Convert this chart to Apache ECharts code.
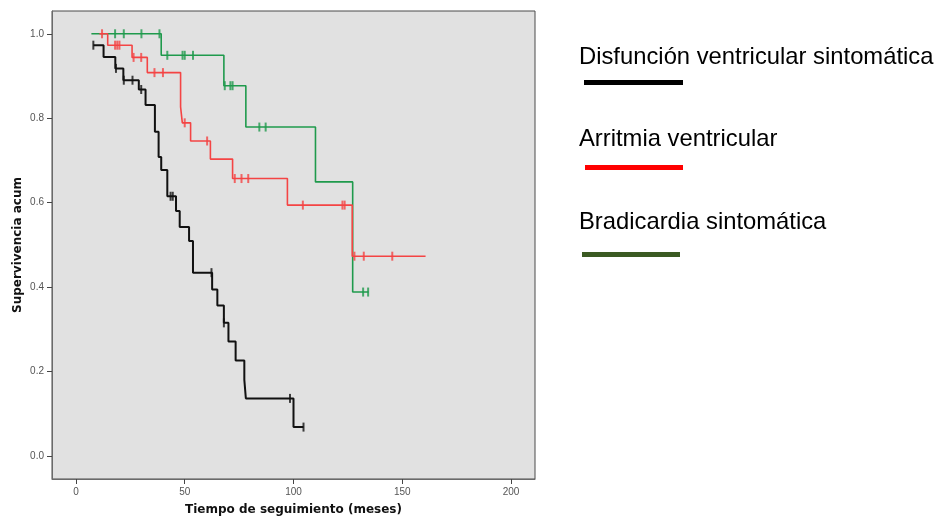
<!DOCTYPE html>
<html>
<head>
<meta charset="utf-8">
<script src="https://cdn.jsdelivr.net/npm/echarts@6/dist/echarts.min.js"></script>
<style>
html,body{margin:0;padding:0;background:#fff;}
#c{width:952px;height:521px;}
</style>
</head>
<body>
<div id="c"></div>
<script>
// ---- Data (Kaplan-Meier curves) ----
var xTicks = [0, 50, 100, 150, 200];
var yTicks = [0.0, 0.2, 0.4, 0.6, 0.8, 1.0];

var seriesNames = ['Disfunción ventricular sintomática', 'Arritmia ventricular', 'Bradicardia sintomática'];

// Disfunción ventricular sintomática
var blackTimes = [8, 12.7, 18.1, 21.8, 28.9, 32, 36.3, 38, 39.2, 42, 46, 47.7, 52, 53.8, 62.6, 65, 68, 70.1, 73.4, 77.4, 78.1, 100];
var blackSurv  = [0.973, 0.945, 0.918, 0.890, 0.868, 0.831, 0.768, 0.708, 0.677, 0.615, 0.580, 0.542, 0.509, 0.434, 0.394, 0.356, 0.315, 0.271, 0.226, 0.180, 0.136, 0.068];
var blackEnd = 104.6;
var blackCensor = [8, 18.4, 22, 26, 30, 43.5, 44.5, 62.3, 68, 98.4, 104.6];

// Arritmia ventricular
var redTimes = [10.8, 14.6, 25.8, 32.8, 48.1, 48.9, 52.7, 61.8, 72, 97.2, 127];
var redSurv  = [1.0, 0.973, 0.944, 0.908, 0.827, 0.789, 0.746, 0.703, 0.657, 0.594, 0.473];
var redEnd = 160.7;
var redCensor = [12, 18, 19, 20, 26.5, 30, 36.1, 40, 50, 60.3, 73, 76.1, 79.2, 104.3, 122.5, 123.5, 128, 132.3, 145.4];

// Bradicardia sintomática
var greenTimes = [7.1, 39.2, 68, 78.1, 110.1, 127.2];
var greenSurv  = [1.0, 0.949, 0.877, 0.779, 0.649, 0.388];
var greenEnd = 134.5;
var greenCensor = [18, 22, 30.1, 38.4, 42, 49, 50, 53.8, 68.4, 71, 72, 84.3, 87.2, 132, 134.3];

// ---- Helpers ----
function stepData(times, surv, end) {
  var d = times.map(function (t, i) { return [t, surv[i]]; });
  d.push([end, surv[surv.length - 1]]);
  return d;
}
function survAt(times, surv, t) {
  var s = surv[0];
  for (var i = 0; i < times.length; i++) { if (times[i] <= t) s = surv[i]; }
  return s;
}
function censorData(times, surv, cens) {
  return cens.map(function (t) { return [t, survAt(times, surv, t)]; });
}

var cBlack = '#111111', cRed = '#f44444', cGreen = '#1f9a4c';

var chart = echarts.init(document.getElementById('c'), null, {renderer: 'canvas'});

function lineSeries(data, color, w) {
  return {type: 'line', data: data, step: 'end', showSymbol: false, symbol: 'none',
    lineStyle: {color: color, width: w}, silent: true, z: 3, animation: false};
}
function censorSeries(data, color) {
  return {type: 'scatter', data: data, symbol: 'rect', symbolSize: [2, 9],
    itemStyle: {color: color}, silent: true, z: 4, animation: false};
}

var option = {
  animation: false,
  grid: {left: 52, top: 11, right: 417, bottom: 42, show: true,
    backgroundColor: '#e1e1e1', borderColor: '#4a4a4a', borderWidth: 1},
  xAxis: {
    type: 'value', min: -11, max: 211,
    name: 'Tiempo de seguimiento (meses)', nameLocation: 'middle', nameGap: 25,
    nameTextStyle: {fontFamily: 'DejaVu Sans', fontWeight: 'bold', fontSize: 12, color: '#111'},
    axisLine: {show: true, onZero: false, lineStyle: {color: '#6a6a6a', width: 1}},
    axisTick: {show: true, length: 5, lineStyle: {color: '#444'}, customValues: xTicks},
    axisLabel: {customValues: xTicks, margin: 8, fontFamily: 'Liberation Sans', fontSize: 10, color: '#555'},
    splitLine: {show: false}
  },
  yAxis: {
    type: 'value', min: -0.055, max: 1.054,
    name: 'Supervivencia acum', nameLocation: 'middle', nameGap: 28, nameRotate: 90,
    nameMoveOverlap: false,
    nameTextStyle: {fontFamily: 'DejaVu Sans', fontWeight: 'bold', fontSize: 12, color: '#111'},
    axisLine: {show: true, onZero: false, lineStyle: {color: '#6a6a6a', width: 1}},
    axisTick: {show: true, length: 5, lineStyle: {color: '#444'}, customValues: yTicks},
    axisLabel: {customValues: yTicks, margin: 8, fontFamily: 'Liberation Sans', fontSize: 10, color: '#555',
      formatter: function (v) { return v.toFixed(1); }},
    splitLine: {show: false}
  },
  series: [
    lineSeries(stepData(greenTimes, greenSurv, greenEnd), cGreen, 1.6),
    lineSeries(stepData(redTimes, redSurv, redEnd), cRed, 1.6),
    lineSeries(stepData(blackTimes, blackSurv, blackEnd), cBlack, 2),
    censorSeries(censorData(greenTimes, greenSurv, greenCensor), cGreen),
    censorSeries(censorData(redTimes, redSurv, redCensor), cRed),
    censorSeries(censorData(blackTimes, blackSurv, blackCensor), cBlack)
  ],
  graphic: [
    {type: 'text', left: 579, top: 45, style: {text: seriesNames[0], font: '23.8px "Liberation Sans", Arial, sans-serif', fill: '#000', textVerticalAlign: 'middle'}},
    {type: 'rect', shape: {x: 584, y: 80, width: 99, height: 5}, style: {fill: '#000'}},
    {type: 'text', left: 579, top: 127, style: {text: seriesNames[1], font: '23.8px "Liberation Sans", Arial, sans-serif', fill: '#000', textVerticalAlign: 'middle'}},
    {type: 'rect', shape: {x: 585, y: 165, width: 98, height: 5}, style: {fill: '#ff0000'}},
    {type: 'text', left: 579, top: 210, style: {text: seriesNames[2], font: '23.8px "Liberation Sans", Arial, sans-serif', fill: '#000', textVerticalAlign: 'middle'}},
    {type: 'rect', shape: {x: 582, y: 252, width: 98, height: 5}, style: {fill: '#3b5a22'}}
  ]
};
chart.setOption(option);
</script>
</body>
</html>
